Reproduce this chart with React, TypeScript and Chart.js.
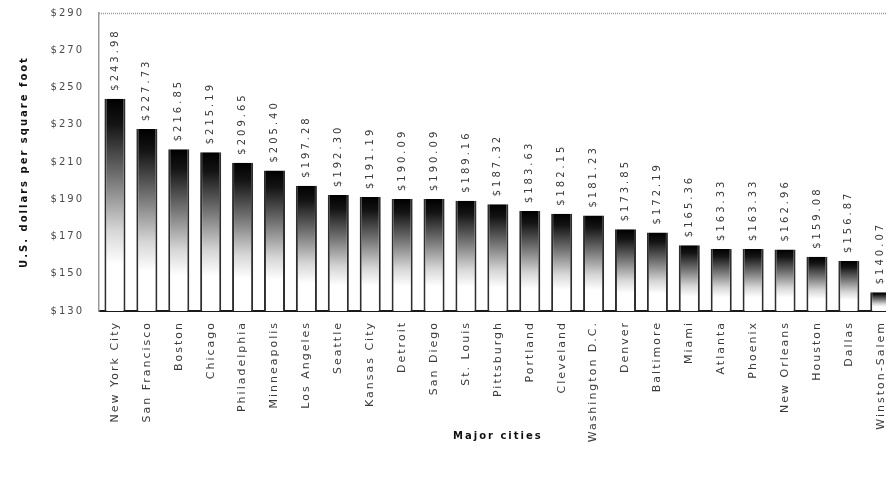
import React, { useEffect, useRef } from "react";
import { Chart, registerables } from "chart.js";

Chart.register(...registerables);

const cities = [
  "New York City", "San Francisco", "Boston", "Chicago", "Philadelphia", "Minneapolis",
  "Los Angeles", "Seattle", "Kansas City", "Detroit", "San Diego", "St. Louis",
  "Pittsburgh", "Portland", "Cleveland", "Washington D.C.", "Denver", "Baltimore",
  "Miami", "Atlanta", "Phoenix", "New Orleans", "Houston", "Dallas", "Winston-Salem",
];

const costPerSqFt = [
  243.98, 227.73, 216.85, 215.19, 209.65, 205.4, 197.28, 192.3, 191.19, 190.09, 190.09, 189.16,
  187.32, 183.63, 182.15, 181.23, 173.85, 172.19, 165.36, 163.33, 163.33, 162.96, 159.08, 156.87,
  140.07,
];

const yMin = 130;
const yMax = 290;
const yStep = 20;

const FONT = "'DejaVu Sans', sans-serif";

const spacingPlugin = {
  id: "spacing",
  beforeUpdate(chart: any) {
    chart.ctx.letterSpacing = "2px";
  },
  beforeDraw(chart: any) {
    chart.ctx.letterSpacing = "2px";
  },
};

const framePlugin = {
  id: "frame",
  afterDraw(chart: any) {
    const { ctx, chartArea } = chart;
    ctx.save();
    ctx.strokeStyle = "#9a9a9a";
    ctx.lineWidth = 1.5;
    ctx.setLineDash([1, 1]);
    ctx.beginPath();
    ctx.moveTo(chartArea.left, chartArea.top + 0.5);
    ctx.lineTo(chartArea.right, chartArea.top + 0.5);
    ctx.stroke();
    ctx.restore();
  },
};

const valueLabelPlugin = {
  id: "valueLabels",
  afterDatasetsDraw(chart: any) {
    const { ctx } = chart;
    const meta = chart.getDatasetMeta(0);
    ctx.save();
    ctx.letterSpacing = "3px";
    ctx.font = `10px ${FONT}`;
    ctx.fillStyle = "#3a3a3a";
    ctx.textAlign = "left";
    ctx.textBaseline = "middle";
    meta.data.forEach((bar: any, i: number) => {
      const v = costPerSqFt[i];
      ctx.save();
      ctx.translate(bar.x, bar.y - 8);
      ctx.rotate(-Math.PI / 2);
      ctx.fillText("$" + v.toFixed(2), 0, 0);
      ctx.restore();
    });
    ctx.restore();
  },
};

export default function App() {
  const ref = useRef<HTMLCanvasElement>(null);

  useEffect(() => {
    if (!ref.current) return;
    const chart = new Chart(ref.current, {
      type: "bar",
      data: {
        labels: cities,
        datasets: [
          {
            data: costPerSqFt,
            backgroundColor: (c: any) => {
              const ch = c.chart;
              if (c.type !== "data" || !ch.chartArea || !ch.scales.y) return "#777";
              const v = c.raw as number;
              const top = ch.scales.y.getPixelForValue(v);
              const bottom = ch.scales.y.getPixelForValue(yMin);
              if (!isFinite(top) || !isFinite(bottom) || bottom - top < 1) return "#555";
              const g = ch.ctx.createLinearGradient(0, top, 0, bottom);
              g.addColorStop(0, "#000000");
              g.addColorStop(0.12, "#141414");
              g.addColorStop(0.38, "#777777");
              g.addColorStop(0.62, "#d6d6d6");
              g.addColorStop(0.78, "#ffffff");
              g.addColorStop(1, "#ffffff");
              return g;
            },
            borderColor: "#2e2e2e",
            borderWidth: { left: 2, right: 2, top: 0, bottom: 0 } as any,
            borderSkipped: "bottom",
            barPercentage: 0.66,
            categoryPercentage: 1,
          },
        ],
      },
      options: {
        animation: false,
        responsive: false,
        maintainAspectRatio: false,
        layout: { padding: { top: 13, right: 2, left: 0, bottom: 0 } },
        plugins: {
          legend: { display: false },
          tooltip: { enabled: false },
        },
        scales: {
          x: {
            grid: { display: false, drawTicks: false },
            border: { display: true, color: "#1a1a1a", width: 2 },
            ticks: {
              autoSkip: false,
              minRotation: 90,
              maxRotation: 90,
              padding: 10,
              color: "#3a3a3a",
              font: { family: FONT, size: 11 },
            },
            title: {
              display: true,
              text: "Major cities",
              color: "#111",
              font: { family: FONT, size: 10, weight: "bold" },
              padding: { top: 0, bottom: 36 },
            },
            afterFit: (s: any) => {
              s.height = 167;
            },
          },
          y: {
            min: yMin,
            max: yMax,
            grid: { display: false, drawTicks: false },
            border: { display: true, color: "#9a9a9a", width: 1.5, dash: [1, 1] },
            ticks: {
              stepSize: yStep,
              padding: 15,
              color: "#4a4a4a",
              font: { family: FONT, size: 10 },
              callback: (v: any) => "$" + v,
            },
            title: {
              display: true,
              text: "U.S. dollars per square foot",
              color: "#111",
              font: { family: FONT, size: 10, weight: "bold" },
              padding: { top: 18, bottom: 0 },
            },
            afterFit: (s: any) => {
              s.width = 99;
              s.paddingTop = 0;
              s.paddingBottom = 0;
            },
          },
        },
      },
      plugins: [spacingPlugin, framePlugin, valueLabelPlugin],
    });
    return () => chart.destroy();
  }, []);

  return (
    <div style={{ margin: -8, width: 894, height: 478, overflow: "hidden", background: "#fff" }}>
      <canvas ref={ref} width={904} height={478} style={{ display: "block", width: 904, height: 478 }} />
    </div>
  );
}
